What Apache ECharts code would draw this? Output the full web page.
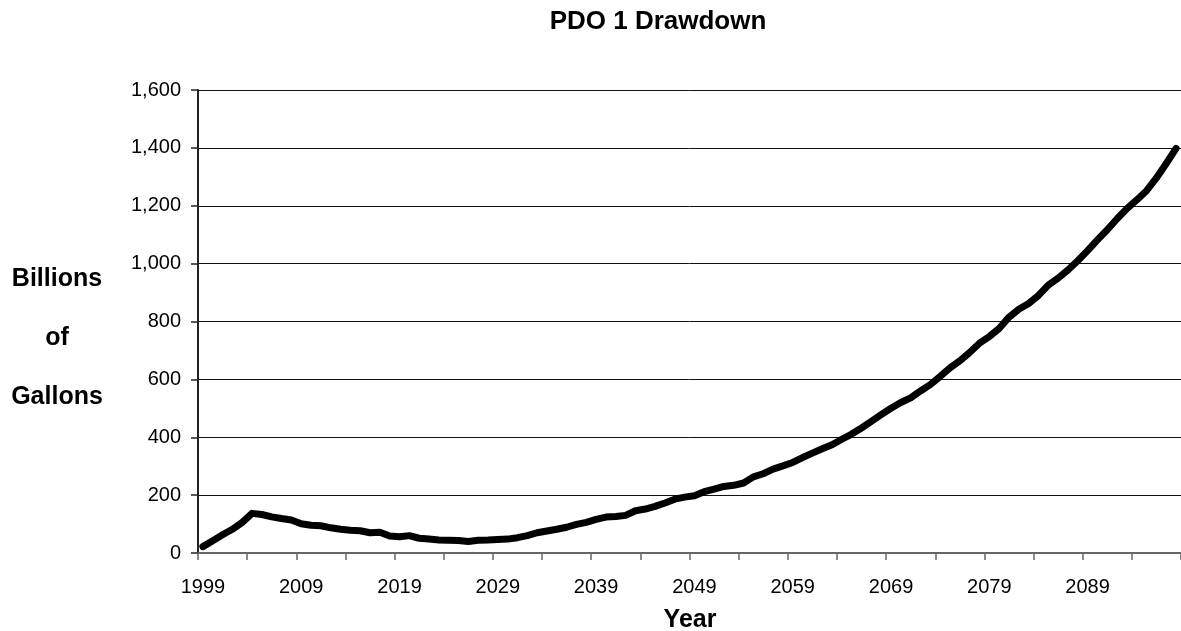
<!DOCTYPE html>
<html>
<head>
<meta charset="utf-8">
<title>PDO 1 Drawdown</title>
<script src="https://cdn.jsdelivr.net/npm/echarts@6/dist/echarts.min.js"></script>
<style>
  html, body { margin: 0; padding: 0; background: #fff; }
  #chart { width: 1181px; height: 631px; }
</style>
</head>
<body>
<div id="chart"></div>
<script>
// Yearly categories, 1999 through 2098
const firstYear = 1999;
const yearCount = 100;
const years = Array.from({ length: yearCount }, (_, i) => String(firstYear + i));

// Cumulative drawdown, billions of gallons
const drawdown = [
  22, 42, 63, 82, 106, 137, 133, 125, 119, 114,        // 1999-2008
  101, 96, 94, 87, 82, 79, 77, 70, 72, 59,             // 2009-2018
  56, 60, 51, 48, 45, 44, 43, 40, 44, 45,              // 2019-2028
  47, 48, 53, 60, 70, 76, 82, 89, 99, 106,             // 2029-2038
  116, 124, 126, 130, 146, 152, 161, 173, 186, 193,    // 2039-2048
  198, 212, 221, 230, 234, 242, 263, 274, 290, 301,    // 2049-2058
  313, 330, 345, 360, 374, 393, 411, 432, 455, 478,    // 2059-2068
  500, 520, 536, 560, 582, 610, 640, 664, 693, 725,    // 2069-2078
  748, 776, 815, 842, 862, 890, 926, 950, 978, 1010,   // 2079-2088
  1045, 1082, 1117, 1155, 1190, 1220, 1252, 1296, 1346, 1398 // 2089-2098
];

// Value axis range
const yMin = 0;
const yMax = 1600;
const yStep = 200;

const titleText = 'PDO 1 Drawdown';
const yTitleLines = ['Billions', 'of', 'Gallons'];
const xTitleText = 'Year';

const font = "'Liberation Sans', Arial, sans-serif";

const chart = echarts.init(document.getElementById('chart'), null, { renderer: 'canvas' });

const graphics = [
  {
    type: 'text', x: 658, y: 22,
    style: { text: titleText, font: 'bold 26px ' + font, fill: '#000',
             textAlign: 'center', textVerticalAlign: 'middle' }
  },
  {
    type: 'text', x: 690, y: 620,
    style: { text: xTitleText, font: 'bold 25px ' + font, fill: '#000',
             textAlign: 'center', textVerticalAlign: 'middle' }
  }
];
yTitleLines.forEach((line, i) => {
  graphics.push({
    type: 'text', x: 57, y: 279 + i * 59,
    style: { text: line, font: 'bold 25px ' + font, fill: '#000',
             textAlign: 'center', textVerticalAlign: 'middle' }
  });
});

chart.setOption({
  animation: false,
  backgroundColor: '#fff',
  grid: { left: 198, top: 90, width: 988, height: 463 },
  xAxis: {
    type: 'category',
    data: years,
    boundaryGap: true,
    axisLine: { show: true, lineStyle: { color: '#666', width: 2 } },
    axisTick: {
      show: true, length: 7, inside: false,
      interval: (index) => index % 5 === 0,
      lineStyle: { color: '#666', width: 1.5 }
    },
    axisLabel: {
      interval: (index) => index % 10 === 0,
      margin: 24,
      color: '#000',
      fontFamily: font,
      fontSize: 20
    },
    splitLine: { show: false }
  },
  yAxis: {
    type: 'value',
    min: yMin, max: yMax, interval: yStep,
    axisLine: { show: true, lineStyle: { color: '#222', width: 2 } },
    axisTick: { show: true, length: 7, lineStyle: { color: '#222', width: 1.5 } },
    axisLabel: {
      margin: 17,
      color: '#000',
      fontFamily: font,
      fontSize: 20,
      formatter: (v) => v.toLocaleString('en-US')
    },
    splitLine: { show: true, lineStyle: { color: '#111', width: 1 } }
  },
  series: [{
    type: 'line',
    data: drawdown,
    showSymbol: false,
    symbol: 'none',
    smooth: false,
    clip: false,
    lineStyle: { color: '#000', width: 7, join: 'round', cap: 'round' }
  }],
  graphic: graphics
});
</script>
</body>
</html>
